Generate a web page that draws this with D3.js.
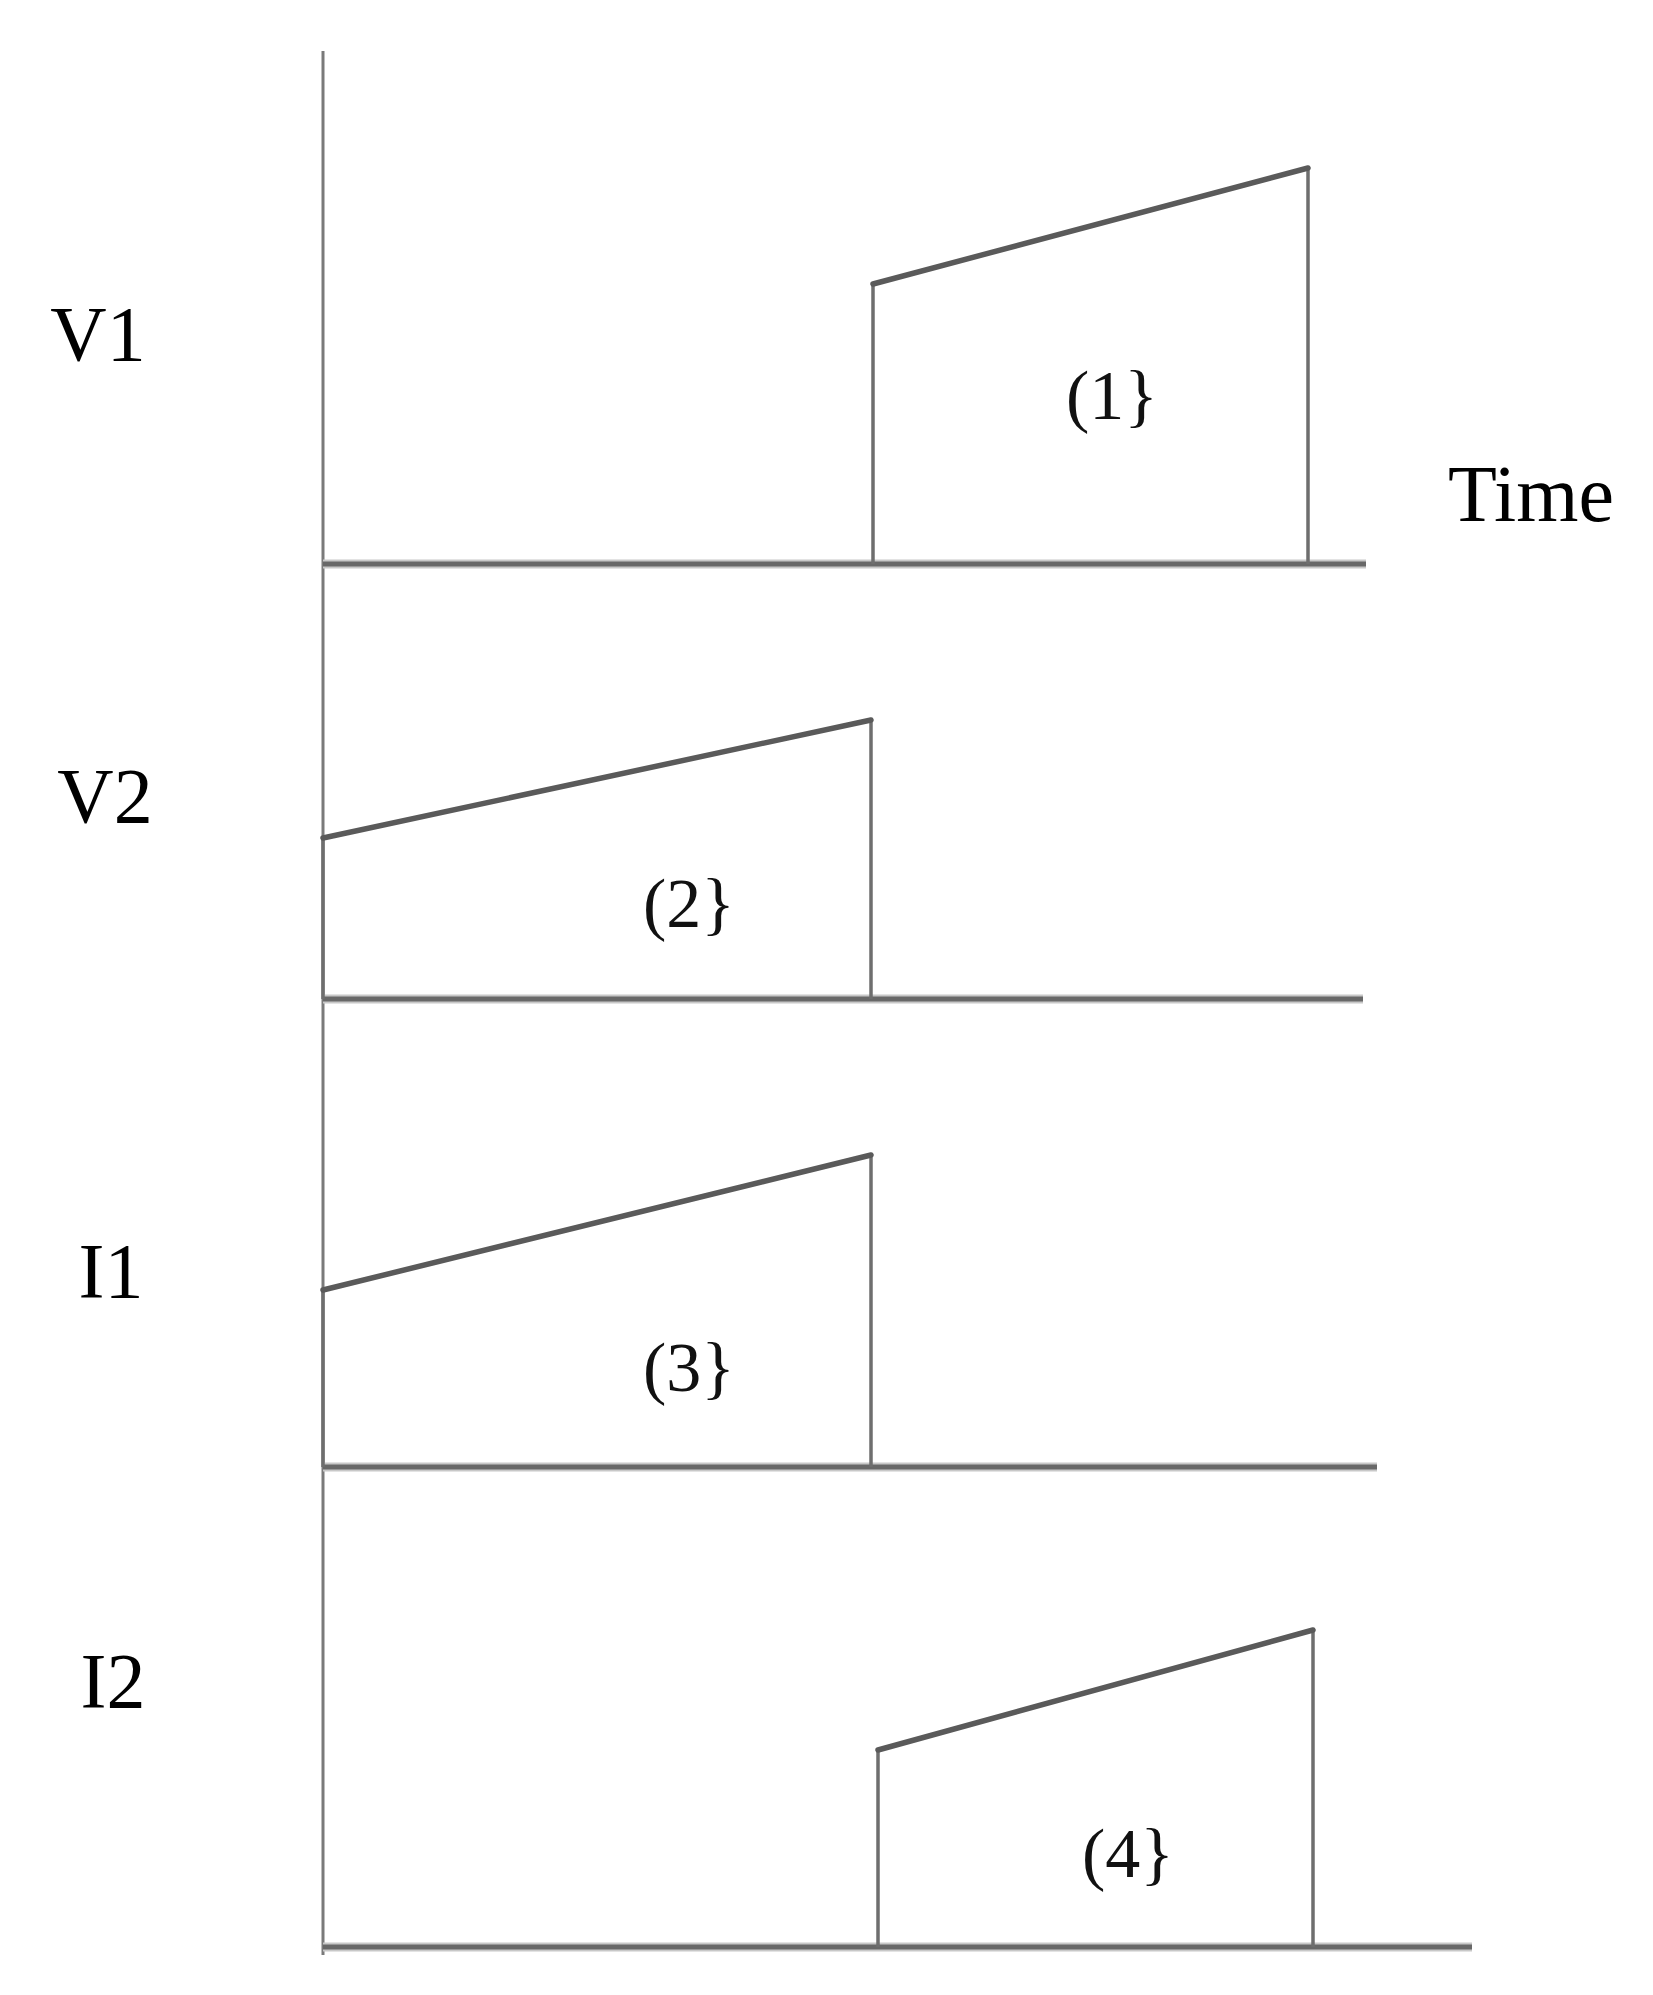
<!DOCTYPE html>
<html><head><meta charset="utf-8">
<script src="https://cdn.jsdelivr.net/npm/d3@7"></script>
<style>html,body{margin:0;padding:0;background:#fff;}</style>
</head><body>
<svg id="chart" width="1653" height="1995"></svg>
<script>
// ---- data ----
const signals = ["V1", "V2", "I1", "I2"];
const tags = ["(1}", "(2}", "(3}", "(4}"];
const pulseStart = [5.5, 0.0, 0.0, 5.55];     // time where the pulse begins
const pulseEnd = [9.85, 5.48, 5.48, 9.9];     // time where the pulse ends
const ampStart = [2.8, 1.61, 1.77, 1.97];     // amplitude at pulse start
const ampEnd = [3.96, 2.79, 3.12, 3.17];      // amplitude at pulse end
const axisEnd = [10.43, 10.4, 10.54, 11.49];  // end of each time axis
const tagTime = [7.89, 3.66, 3.66, 8.05];
const tagAmp = [1.69, 0.96, 1.0, 0.94];
const timeLabel = "Time";

// ---- layout ----
const baselines = [564, 999, 1467, 1947];
const labelX = [98, 105, 111, 113];
const labelY = [333, 795, 1270, 1680];

const svg = d3.select("#chart");
const x = d3.scaleLinear().domain([0, 10]).range([323, 1323]);
const yFor = i => d3.scaleLinear().domain([0, 4]).range([baselines[i], baselines[i] - 400]);

// vertical axis
svg.append("line").attr("x1", x(0)).attr("x2", x(0)).attr("y1", 51).attr("y2", 1955)
  .attr("stroke", "#7a7a7a").attr("stroke-width", 3);

const line = d3.line().x(d => d[0]).y(d => d[1]);

signals.forEach((name, i) => {
  const y = yFor(i);
  const g = svg.append("g");
  // time axis (baseline)
  g.append("line").attr("x1", x(0)).attr("x2", x(axisEnd[i])).attr("y1", y(0)).attr("y2", y(0))
    .attr("stroke", "#c8c8c8").attr("stroke-width", 9);
  g.append("line").attr("x1", x(0)).attr("x2", x(axisEnd[i])).attr("y1", y(0)).attr("y2", y(0))
    .attr("stroke", "#686868").attr("stroke-width", 5);
  // pulse outline: verticals
  g.append("path")
    .attr("d", line([[x(pulseStart[i]), y(0)], [x(pulseStart[i]), y(ampStart[i])]]))
    .attr("stroke", "#6e6e6e").attr("stroke-width", 3.5).attr("fill", "none");
  g.append("path")
    .attr("d", line([[x(pulseEnd[i]), y(ampEnd[i])], [x(pulseEnd[i]), y(0)]]))
    .attr("stroke", "#6e6e6e").attr("stroke-width", 3.5).attr("fill", "none");
  // ramp
  g.append("path")
    .attr("d", line([[x(pulseStart[i]), y(ampStart[i])], [x(pulseEnd[i]), y(ampEnd[i])]]))
    .attr("stroke", "#5a5a5a").attr("stroke-width", 5.5).attr("fill", "none")
    .attr("stroke-linecap", "round");
  // tag
  g.append("text").attr("x", x(tagTime[i])).attr("y", y(tagAmp[i]))
    .attr("text-anchor", "middle").attr("dominant-baseline", "central")
    .attr("font-family", "Liberation Serif, serif").attr("font-size", 70)
    .attr("fill", "#111").text(tags[i]);
  // signal name
  svg.append("text").attr("x", labelX[i]).attr("y", labelY[i])
    .attr("text-anchor", "middle").attr("dominant-baseline", "central")
    .attr("font-family", "Liberation Serif, serif").attr("font-size", 78)
    .attr("fill", "#000").text(name);
});

// Time label
const y0 = yFor(0);
svg.append("text").attr("x", x(12.08)).attr("y", y0(0.7))
  .attr("text-anchor", "middle").attr("dominant-baseline", "central")
  .attr("font-family", "Liberation Serif, serif").attr("font-size", 80)
  .attr("fill", "#000").text(timeLabel);
</script>
</body></html>
